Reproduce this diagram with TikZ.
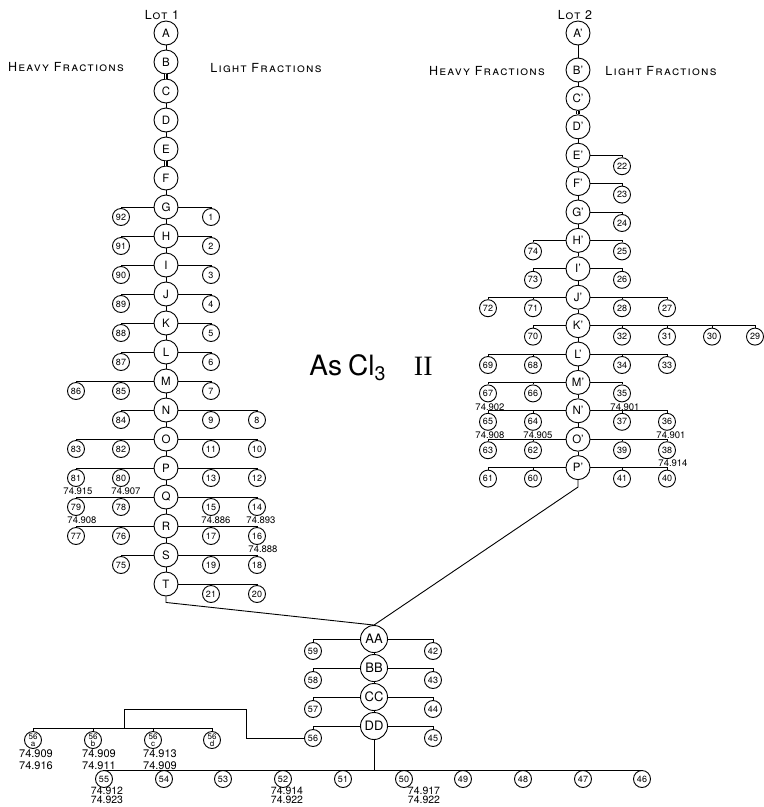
\documentclass[tikz,border=0pt]{standalone}
\usepackage{fontspec}
\setmainfont{TeX Gyre Heros}
\newfontfamily\letterfont[LetterSpace=10]{TeX Gyre Heros}
\newfontfamily\serifII{Liberation Serif}
\usetikzlibrary{positioning}
\tikzset{
	main/.style={circle, draw, minimum size=24pt, inner sep=0pt, font=\fontsize{11.5}{12}\selectfont}, % still circles of the two lots
	big/.style={main, minimum size=27pt, font=\fontsize{13}{13}\selectfont}, % circles where the lots are joined
	frac/.style={circle, draw, minimum size=17pt, inner sep=0pt, font=\fontsize{9}{9}\selectfont}, % the fractions
	sub/.style={frac, align=center, font=\fontsize{8}{7}\selectfont},
	val/.style={inner sep=0.5pt, align=center, font=\fontsize{9.5}{9.5}\selectfont}, % atomic weights
	val2/.style={val, font=\fontsize{11}{11.5}\selectfont},
	low/.style={val, font=\fontsize{10.5}{9}\selectfont},
	head/.style={font=\letterfont\fontsize{12.5}{12.5}\selectfont\scshape},
	hang/.style={to path={-| (\tikztotarget)}}, % across, then down to a fraction
	drop/.style={to path={|- (\tikztotarget)}}, % down, then across
	joint/.style={double, double distance=2.2pt, line width=0.6pt},
}

\begin{document}
\begin{tikzpicture}[x=1pt, y=-1pt, line width=0.9pt, node distance=29pt]
	\useasboundingbox (0,0) rectangle (764,807);
	% headings
	\node[head] (lot1) at (162,15) {Lot 1};
	\node[head] (heavy1) at (66,67) {Heavy Fractions};
	\node[head] (light1) at (266,68) {Light Fractions};
	\node[head] (lot2) at (575,15) {Lot 2};
	\node[head] (heavy2) at (487,71) {Heavy Fractions};
	\node[head] (light2) at (661,71) {Light Fractions};
	\node[font=\fontsize{28}{28}\selectfont] (title) at (371,368) {As\hspace{6pt}Cl\textsubscript{3}\hspace{28pt}{\serifII II}};

	% lot 1
	\node[main] (A) at (166,33) {A};
	\node[main, below of=A] (B) {B};
	\node[main, below of=B] (C) {C};
	\node[main, below of=C] (D) {D};
	\node[main, below of=D] (E) {E};
	\node[main, below of=E] (F) {F};
	\node[main, below of=F] (G) {G};
	\node[main, below of=G] (H) {H};
	\node[main, below of=H] (I) {I};
	\node[main, below of=I] (J) {J};
	\node[main, below of=J] (K) {K};
	\node[main, below of=K] (L) {L};
	\node[main, below of=L] (M) {M};
	\node[main, below of=M] (N) {N};
	\node[main, below of=N] (O) {O};
	\node[main, below of=O] (P) {P};
	\node[main, below of=P] (Q) {Q};
	\node[main, below of=Q] (R) {R};
	\node[main, below of=R] (S) {S};
	\node[main, below of=S] (T) {T};

	\node[frac] (f92) at ([shift={(-45,10)}]G) {92}; \node[frac] (f1) at ([shift={(45,10)}]G) {1};
	\node[frac] (f91) at ([shift={(-45,10)}]H) {91}; \node[frac] (f2) at ([shift={(45,10)}]H) {2};
	\node[frac] (f90) at ([shift={(-45,10)}]I) {90}; \node[frac] (f3) at ([shift={(45,10)}]I) {3};
	\node[frac] (f89) at ([shift={(-45,10)}]J) {89}; \node[frac] (f4) at ([shift={(45,10)}]J) {4};
	\node[frac] (f88) at ([shift={(-45,10)}]K) {88}; \node[frac] (f5) at ([shift={(45,10)}]K) {5};
	\node[frac] (f87) at ([shift={(-45,10)}]L) {87}; \node[frac] (f6) at ([shift={(45,10)}]L) {6};
	\node[frac] (f86) at ([shift={(-90,10)}]M) {86}; \node[frac] (f85) at ([shift={(-45,10)}]M) {85};
	\node[frac] (f7) at ([shift={(45,10)}]M) {7};
	\node[frac] (f84) at ([shift={(-45,10)}]N) {84};
	\node[frac] (f9) at ([shift={(45,10)}]N) {9}; \node[frac] (f8) at ([shift={(91,10)}]N) {8};
	\node[frac] (f83) at ([shift={(-90,10)}]O) {83}; \node[frac] (f82) at ([shift={(-45,10)}]O) {82};
	\node[frac] (f11) at ([shift={(45,10)}]O) {11}; \node[frac] (f10) at ([shift={(91,10)}]O) {10};
	\node[frac] (f81) at ([shift={(-90,10)}]P) {81}; \node[frac] (f80) at ([shift={(-45,10)}]P) {80};
	\node[frac] (f13) at ([shift={(45,10)}]P) {13}; \node[frac] (f12) at ([shift={(91,10)}]P) {12};
	\node[frac] (f79) at ([shift={(-90,10)}]Q) {79}; \node[frac] (f78) at ([shift={(-45,10)}]Q) {78};
	\node[frac] (f15) at ([shift={(45,10)}]Q) {15}; \node[frac] (f14) at ([shift={(91,10)}]Q) {14};
	\node[frac] (f77) at ([shift={(-90,10)}]R) {77}; \node[frac] (f76) at ([shift={(-45,10)}]R) {76};
	\node[frac] (f17) at ([shift={(45,10)}]R) {17}; \node[frac] (f16) at ([shift={(91,10)}]R) {16};
	\node[frac] (f75) at ([shift={(-45,10)}]S) {75};
	\node[frac] (f19) at ([shift={(45,10)}]S) {19}; \node[frac] (f18) at ([shift={(91,10)}]S) {18};
	\node[frac] (f21) at ([shift={(45,10)}]T) {21}; \node[frac] (f20) at ([shift={(91,10)}]T) {20};

	\node[val, below=0pt of f81, xshift=2pt] (v81) {74.915};
	\node[val, below=0pt of f80, xshift=5pt] (v80) {74.907};
	\node[val, below=0pt of f79, xshift=6pt] (v79) {74.908};
	\node[val, below=0pt of f15, xshift=5pt] (v15) {74.886};
	\node[val, below=0pt of f14, xshift=4pt] (v14) {74.893};
	\node[val, below=0pt of f16, xshift=6pt] (v16) {74.888};

	\draw (A) edge (B) (C) edge (D) (D) edge (E) (F) edge (G) (G) edge (H) (H) edge (I)
		(I) edge (J) (J) edge (K) (K) edge (L) (L) edge (M) (M) edge (N) (N) edge (O)
		(O) edge (P) (P) edge (Q) (Q) edge (R) (R) edge (S) (S) edge (T);
	\draw[joint] (B) -- (C) (E) -- (F);
	\draw (B) -- (C) (E) -- (F);
	\draw (G) edge[hang] (f92.north) (G) edge[hang] (f1.north)
		(H) edge[hang] (f91.north) (H) edge[hang] (f2.north)
		(I) edge[hang] (f90.north) (I) edge[hang] (f3.north)
		(J) edge[hang] (f89.north) (J) edge[hang] (f4.north)
		(K) edge[hang] (f88.north) (K) edge[hang] (f5.north)
		(L) edge[hang] (f87.north) (L) edge[hang] (f6.north)
		(M) edge[hang] (f86.north) (M) edge[hang] (f85.north) (M) edge[hang] (f7.north)
		(N) edge[hang] (f84.north) (N) edge[hang] (f9.north) (N) edge[hang] (f8.north)
		(O) edge[hang] (f83.north) (O) edge[hang] (f82.north) (O) edge[hang] (f11.north) (O) edge[hang] (f10.north)
		(P) edge[hang] (f81.north) (P) edge[hang] (f80.north) (P) edge[hang] (f13.north) (P) edge[hang] (f12.north)
		(Q) edge[hang] (f79.north) (Q) edge[hang] (f78.north) (Q) edge[hang] (f15.north) (Q) edge[hang] (f14.north)
		(R) edge[hang] (f77.north) (R) edge[hang] (f76.north) (R) edge[hang] (f17.north) (R) edge[hang] (f16.north)
		(S) edge[hang] (f75.north) (S) edge[hang] (f19.north) (S) edge[hang] (f18.north)
		(T) edge[hang] (f21.north) (T) edge[hang] (f20.north);

	% lot 2
	\begin{scope}[node distance=28.4pt]
	\node[main] (A2) at (578,33) {A'};
	\node[main, below of=A2, node distance=37pt] (B2) {B'};
	\node[main, below of=B2] (C2) {C'};
	\node[main, below of=C2] (D2) {D'};
	\node[main, below of=D2] (E2) {E'};
	\node[main, below of=E2] (F2) {F'};
	\node[main, below of=F2] (G2) {G'};
	\node[main, below of=G2] (H2) {H'};
	\node[main, below of=H2] (I2) {I'};
	\node[main, below of=I2] (J2) {J'};
	\node[main, below of=J2] (K2) {K'};
	\node[main, below of=K2] (L2) {L'};
	\node[main, below of=L2] (M2) {M'};
	\node[main, below of=M2] (N2) {N'};
	\node[main, below of=N2] (O2) {O'};
	\node[main, below of=O2] (P2) {P'};
	\end{scope}

	\node[frac] (f22) at ([shift={(44,11)}]E2) {22};
	\node[frac] (f23) at ([shift={(44,11)}]F2) {23};
	\node[frac] (f24) at ([shift={(44,11)}]G2) {24};
	\node[frac] (f74) at ([shift={(-45,11)}]H2) {74}; \node[frac] (f25) at ([shift={(44,11)}]H2) {25};
	\node[frac] (f73) at ([shift={(-45,11)}]I2) {73}; \node[frac] (f26) at ([shift={(44,11)}]I2) {26};
	\node[frac] (f72) at ([shift={(-90,11)}]J2) {72}; \node[frac] (f71) at ([shift={(-45,11)}]J2) {71};
	\node[frac] (f28) at ([shift={(44,11)}]J2) {28}; \node[frac] (f27) at ([shift={(89,11)}]J2) {27};
	\node[frac] (f70) at ([shift={(-45,11)}]K2) {70};
	\node[frac] (f32) at ([shift={(44,11)}]K2) {32}; \node[frac] (f31) at ([shift={(89,11)}]K2) {31};
	\node[frac] (f30) at ([shift={(134,11)}]K2) {30}; \node[frac] (f29) at ([shift={(177,11)}]K2) {29};
	\node[frac] (f69) at ([shift={(-90,11)}]L2) {69}; \node[frac] (f68) at ([shift={(-45,11)}]L2) {68};
	\node[frac] (f34) at ([shift={(44,11)}]L2) {34}; \node[frac] (f33) at ([shift={(89,11)}]L2) {33};
	\node[frac] (f67) at ([shift={(-90,11)}]M2) {67}; \node[frac] (f66) at ([shift={(-45,11)}]M2) {66};
	\node[frac] (f35) at ([shift={(44,11)}]M2) {35};
	\node[frac] (f65) at ([shift={(-90,11)}]N2) {65}; \node[frac] (f64) at ([shift={(-45,11)}]N2) {64};
	\node[frac] (f37) at ([shift={(44,11)}]N2) {37}; \node[frac] (f36) at ([shift={(89,11)}]N2) {36};
	\node[frac] (f63) at ([shift={(-90,11)}]O2) {63}; \node[frac] (f62) at ([shift={(-45,11)}]O2) {62};
	\node[frac] (f39) at ([shift={(44,11)}]O2) {39}; \node[frac] (f38) at ([shift={(89,11)}]O2) {38};
	\node[frac] (f61) at ([shift={(-90,11)}]P2) {61}; \node[frac] (f60) at ([shift={(-45,11)}]P2) {60};
	\node[frac] (f41) at ([shift={(44,11)}]P2) {41}; \node[frac] (f40) at ([shift={(89,11)}]P2) {40};

	\node[val, below=0pt of f67, xshift=2pt] (v67) {74.902};
	\node[val, below=0pt of f35, xshift=3pt] (v35) {74.901};
	\node[val, below=0pt of f65, xshift=2pt] (v65) {74.908};
	\node[val, below=0pt of f64, xshift=5pt] (v64) {74.905};
	\node[val, below=0pt of f36, xshift=4pt] (v36) {74.901};
	\node[val, below=0pt of f38, xshift=6pt] (v38) {74.914};

	\draw (A2) edge (B2) (B2) edge (C2) (D2) edge (E2) (E2) edge (F2) (F2) edge (G2) (G2) edge (H2)
		(H2) edge (I2) (I2) edge (J2) (J2) edge (K2) (K2) edge (L2) (L2) edge (M2) (M2) edge (N2)
		(N2) edge (O2) (O2) edge (P2);
	\draw[joint] (C2) -- (D2);
	\draw (C2) -- (D2);
	\draw (E2) edge[hang] (f22.north) (F2) edge[hang] (f23.north) (G2) edge[hang] (f24.north)
		(H2) edge[hang] (f74.north) (H2) edge[hang] (f25.north)
		(I2) edge[hang] (f73.north) (I2) edge[hang] (f26.north)
		(J2) edge[hang] (f72.north) (J2) edge[hang] (f71.north) (J2) edge[hang] (f28.north) (J2) edge[hang] (f27.north)
		(K2) edge[hang] (f70.north) (K2) edge[hang] (f32.north) (K2) edge[hang] (f31.north) (K2) edge[hang] (f30.north) (K2) edge[hang] (f29.north)
		(L2) edge[hang] (f69.north) (L2) edge[hang] (f68.north) (L2) edge[hang] (f34.north) (L2) edge[hang] (f33.north)
		(M2) edge[hang] (f67.north) (M2) edge[hang] (f66.north) (M2) edge[hang] (f35.north)
		(N2) edge[hang] (f65.north) (N2) edge[hang] (f64.north) (N2) edge[hang] (f37.north) (N2) edge[hang] (f36.north)
		(O2) edge[hang] (f63.north) (O2) edge[hang] (f62.north) (O2) edge[hang] (f39.north) (O2) edge[hang] (f38.north)
		(P2) edge[hang] (f61.north) (P2) edge[hang] (f60.north) (P2) edge[hang] (f41.north) (P2) edge[hang] (f40.north);

	% both lots together
	\node[big] (AA) at (374,639) {AA};
	\node[big, below of=AA] (BB) {BB};
	\node[big, below of=BB] (CC) {CC};
	\node[big, below of=CC] (DD) {DD};

	\node[frac] (f59) at ([shift={(-61,12)}]AA) {59}; \node[frac] (f42) at ([shift={(59,12)}]AA) {42};
	\node[frac] (f58) at ([shift={(-61,12)}]BB) {58}; \node[frac] (f43) at ([shift={(59,12)}]BB) {43};
	\node[frac] (f57) at ([shift={(-61,12)}]CC) {57}; \node[frac] (f44) at ([shift={(59,12)}]CC) {44};
	\node[frac] (f56) at ([shift={(-61,12)}]DD) {56}; \node[frac] (f45) at ([shift={(59,12)}]DD) {45};

	\node[sub] (f56a) at (33,740) {56\\a};
	\node[sub] (f56b) at (93,740) {56\\b};
	\node[sub] (f56c) at (153,740) {56\\c};
	\node[sub] (f56d) at (212,740) {56\\d};
	\coordinate (bend) at (246,709);
	\coordinate (j56) at (124,728);

	\node[frac] (f55) at (104,779) {55};
	\node[frac] (f54) at (164,779) {54};
	\node[frac] (f53) at (223,779) {53};
	\node[frac] (f52) at (283,779) {52};
	\node[frac] (f51) at (343,779) {51};
	\node[frac] (f50) at (404,779) {50};
	\node[frac] (f49) at (463,779) {49};
	\node[frac] (f48) at (523,779) {48};
	\node[frac] (f47) at (583,779) {47};
	\node[frac] (f46) at (642,779) {46};

	\node[val2, below=0pt of f56a, xshift=3pt] (v56a) {74.909\\74.916};
	\node[val2, below=0pt of f56b, xshift=6pt] (v56b) {74.909\\74.911};
	\node[val2, below=0pt of f56c, xshift=7pt] (v56c) {74.913\\74.909};
	\node[low, below=-1.5pt of f55, xshift=3pt] (v55) {74.912\\74.923};
	\node[low, below=-1.5pt of f52, xshift=4pt] (v52) {74.914\\74.922};
	\node[low, below=-1.5pt of f50, xshift=20pt] (v50) {74.917\\74.922};

	\draw (T.south) -- ++(0,6) -- (AA.north);
	\draw (P2.south) -- ++(0,7) -- (AA.north);
	\draw (AA) edge (BB) (BB) edge (CC) (CC) edge (DD);
	\draw (AA) edge[hang] (f59.north) (AA) edge[hang] (f42.north)
		(BB) edge[hang] (f58.north) (BB) edge[hang] (f43.north)
		(CC) edge[hang] (f57.north) (CC) edge[hang] (f44.north)
		(DD) edge[hang] (f56.north) (DD) edge[hang] (f45.north);
	\draw (f56) -| (bend) -| (j56);
	\draw (j56) edge[hang] (f56a.north) (j56) edge[hang] (f56b.north)
		(j56) edge[hang] (f56c.north) (j56) edge[hang] (f56d.north);
	\draw (DD) edge[drop] (f55.north) (DD) edge[drop] (f54.north) (DD) edge[drop] (f53.north)
		(DD) edge[drop] (f52.north) (DD) edge[drop] (f51.north) (DD) edge[drop] (f50.north)
		(DD) edge[drop] (f49.north) (DD) edge[drop] (f48.north) (DD) edge[drop] (f47.north)
		(DD) edge[drop] (f46.north);
\end{tikzpicture}
\end{document}
